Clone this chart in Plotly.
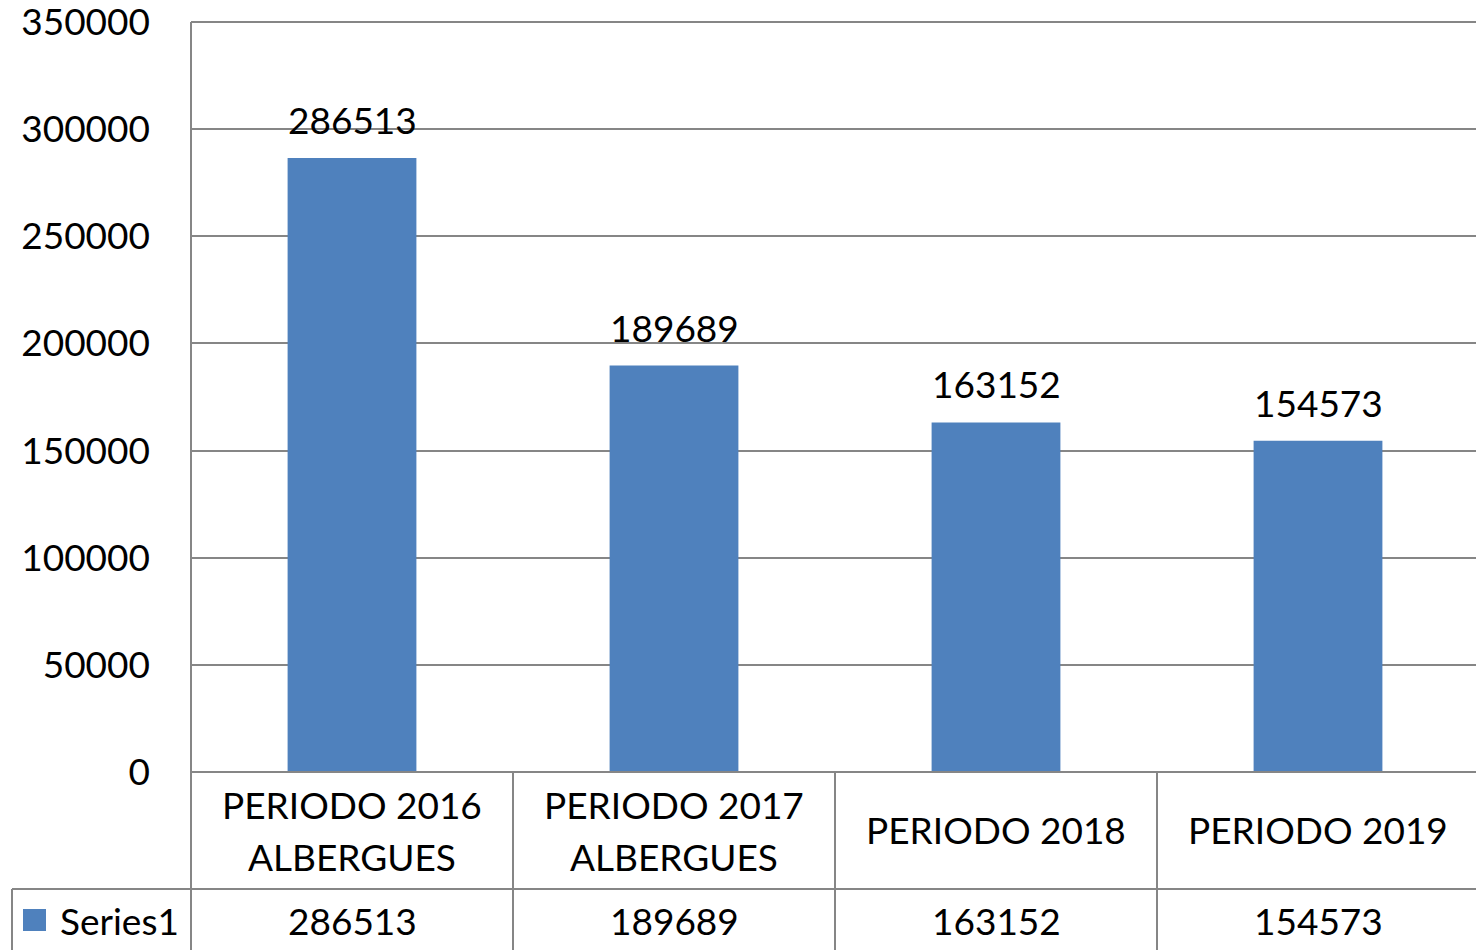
import plotly.graph_objects as go

cat_line1 = ["PERIODO 2016", "PERIODO 2017", "PERIODO 2018", "PERIODO 2019"]
cat_line2 = ["ALBERGUES", "ALBERGUES", "", ""]
values = [286513, 189689, 163152, 154573]
series_name = "Series1"
y_ticks = [0, 50000, 100000, 150000, 200000, 250000, 300000, 350000]

BAR = "#4F81BD"
GRID = "#868686"
FONT = "Lato"
FS = 37

OFF = 8  # page body margin
W, H = 1484 - OFF, 950 - OFF
L, R, T, B = 191 - OFF, 5, 22 - OFF, 950 - 772
pw = W - L - R
ph = H - T - B

def py(p):  # reference screen pixel y -> paper
    return (T + ph - (p - OFF)) / ph

def px(p):  # reference screen pixel x -> paper
    return ((p - OFF) - L) / pw

xs = list(range(len(values)))

fig = go.Figure()
fig.add_trace(go.Bar(x=xs, y=values, width=0.4, marker=dict(color=BAR, line=dict(width=0)),
                     name=series_name, showlegend=False, hoverinfo="y"))

f = dict(family=FONT, size=FS, color="black")
ann = []
for i, v in enumerate(values):
    ann.append(dict(x=i, y=v, xref="x", yref="y", text=str(v), showarrow=False,
                    yanchor="bottom", yshift=14, font=f))
    if cat_line2[i]:
        ann.append(dict(x=i, y=py(804), xref="x", yref="paper", text=cat_line1[i], showarrow=False,
                        yanchor="middle", font=f))
        ann.append(dict(x=i, y=py(856), xref="x", yref="paper", text=cat_line2[i], showarrow=False,
                        yanchor="middle", font=f))
    else:
        ann.append(dict(x=i, y=py(830), xref="x", yref="paper", text=cat_line1[i], showarrow=False,
                        yanchor="middle", font=f))
    ann.append(dict(x=i, y=py(920), xref="x", yref="paper", text=str(v), showarrow=False,
                    yanchor="middle", font=f))
ann.append(dict(x=px(58), y=py(920), xref="paper", yref="paper", text=series_name, showarrow=False,
                xanchor="left", yanchor="middle", font=f))

shapes = []
lw = 2
line = dict(color=GRID, width=lw)
shapes.append(dict(type="line", xref="paper", yref="paper", x0=px(191), x1=px(1479), y0=0, y1=0, line=line))
shapes.append(dict(type="line", xref="paper", yref="paper", x0=px(191), x1=px(1479), y0=1, y1=1, line=line))
shapes.append(dict(type="line", xref="paper", yref="paper", x0=px(12), x1=px(1479), y0=py(889), y1=py(889), line=line))
for xv in [191, 513, 835, 1157, 1479]:
    shapes.append(dict(type="line", xref="paper", yref="paper", x0=px(xv), x1=px(xv), y0=0, y1=py(955), line=line))
shapes.append(dict(type="line", xref="paper", yref="paper", x0=px(12), x1=px(12), y0=py(889), y1=py(955), line=line))
shapes.append(dict(type="line", xref="paper", yref="paper", x0=0, x1=0, y0=0, y1=1, line=line))
shapes.append(dict(type="rect", xref="paper", yref="paper", x0=px(23), x1=px(46), y0=py(931), y1=py(909),
                   fillcolor=BAR, line=dict(width=0)))

fig.update_layout(
    width=W, height=H,
    margin=dict(l=L, r=R, t=T, b=B, pad=0, autoexpand=False),
    paper_bgcolor="white", plot_bgcolor="white",
    font=f,
    xaxis=dict(range=[-0.5, 3.5], showticklabels=False, showgrid=False, zeroline=False,
               showline=False, ticks="", automargin=False),
    yaxis=dict(range=[0, 350000.5], tickvals=y_ticks, ticktext=[str(t) for t in y_ticks],
               showgrid=True, gridcolor=GRID, gridwidth=lw, zeroline=False, showline=False,
               ticks="", ticklabelstandoff=40, ticklabeloverflow="allow", automargin=False,
               tickfont=f),
    annotations=ann, shapes=shapes, showlegend=False,
)

fig.write_html("out.html")
